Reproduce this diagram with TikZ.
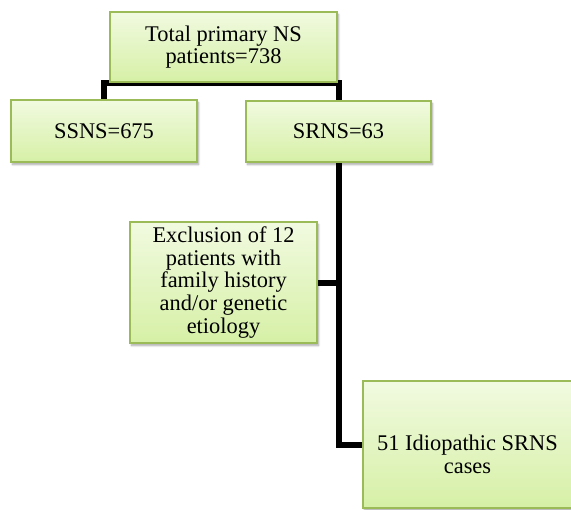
\documentclass[tikz,border=0pt]{standalone}
\usepackage{fontspec}
\setmainfont{Liberation Serif}
\usetikzlibrary{shadows.blur}
\pgfdeclarelayer{background}
\pgfsetlayers{background,main}
\definecolor{boxline}{RGB}{155,187,89}
\definecolor{boxtop}{RGB}{241,250,224}
\definecolor{boxbot}{RGB}{214,240,166}
\tikzset{
  flowbox/.style={rectangle, draw=boxline, line width=1.3bp,
    top color=boxtop, bottom color=boxbot, align=center, inner sep=0pt,
    font=\fontsize{22.5}{22.8}\selectfont,
    blur shadow={shadow xshift=1.5bp, shadow yshift=-2.5bp, shadow blur steps=6, shadow blur radius=2bp, shadow opacity=35}},
  conn/.style={line width=6bp, black},
  plaintext/.style={align=center, inner sep=0pt, font=\fontsize{22.5}{22.8}\selectfont}
}
\begin{document}
\begin{tikzpicture}[x=1bp,y=-1bp]
\useasboundingbox (0,0) rectangle (571,510);
\clip (0,0) rectangle (571,510);
\path (223.5,47) node[flowbox, minimum width=227bp, minimum height=70bp] (top) {Total primary NS\\patients=738};
\path (104,131) node[flowbox, minimum width=186bp, minimum height=62bp] (ssns) {SSNS=675};
\path (338.5,131.5) node[flowbox, minimum width=185bp, minimum height=61bp] (srns) {SRNS=63};
\path (223.5,282.5) node[flowbox, minimum width=187bp, minimum height=121bp] (excl) {Exclusion of 12\\patients with\\family history\\and/or genetic\\etiology};
\path (467.5,444.5) node[flowbox, minimum width=209bp, minimum height=127bp] (idio) {};
\path (467.5,454) node[plaintext] (idiotext) {51 Idiopathic SRNS\\cases};
\begin{pgfonlayer}{background}
\draw[conn] (ssns.north) |- (top.south) -| (srns.north);
\draw[conn] (srns.south) |- (idio.west);
\draw[conn] (excl.east) -- (excl.east -| srns.south);
\end{pgfonlayer}
\end{tikzpicture}
\end{document}
